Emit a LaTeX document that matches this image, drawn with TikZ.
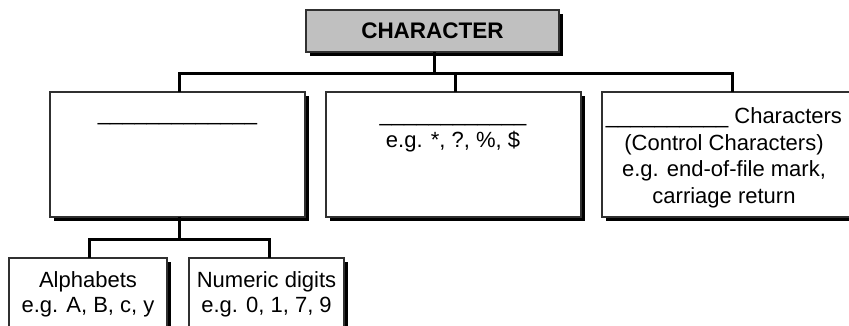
\documentclass[tikz,border=0pt]{standalone}
\usepackage{fontspec}
\setmainfont{Liberation Sans}
\usetikzlibrary{shadows}
\definecolor{boxline}{HTML}{303030}
\definecolor{boxgray}{HTML}{C0C0C0}
\begin{document}
\begin{tikzpicture}[x=1pt,y=-1pt,
  box/.style={draw=boxline, line width=1.5pt, fill=white, rectangle, outer sep=0pt, inner sep=0pt, anchor=north west,
    drop shadow={shadow xshift=4pt, shadow yshift=-4pt, fill=black, opacity=1}},
  conn/.style={line width=3pt, black},
  txt/.style={font=\fontsize{22}{26.5}\selectfont, align=center, anchor=base, inner sep=0pt}]
\useasboundingbox (0,0) rectangle (849,325);
\clip (0,0) rectangle (849,325);
% boxes
\node[box, fill=boxgray, minimum width=253pt, minimum height=42pt] (char) at (306,10) {};
\node[box, minimum width=255pt, minimum height=125pt] (L) at (50,92) {};
\node[box, minimum width=255pt, minimum height=125pt] (M) at (326,92) {};
\node[box, minimum width=260pt, minimum height=125pt] (R) at (602,92) {};
\node[box, minimum width=158pt, minimum height=90pt] (A) at (9,258) {};
\node[box, minimum width=155pt, minimum height=90pt] (N) at (189,258) {};
% texts (anchor base = baseline of the last line)
\node[txt, font=\fontsize{22.5}{25}\selectfont\bfseries] (tchar) at (432.5,38.5) {CHARACTER};
\node[txt] (tL) at (177.5,120) {\_\_\_\_\_\_\_\_\_\_\_\_\_};
\node[txt, font=\fontsize{22}{25.5}\selectfont] (tM) at (453,147) {\_\_\_\_\_\_\_\_\_\_\_\_\\e.g. *, ?, \%, \$};
\node[txt] (tR) at (724,203) {\_\_\_\_\_\_\_\_\_\_ Characters\\(Control Characters)\\e.g. end-of-file mark,\\carriage return};
\node[txt, font=\fontsize{22}{25}\selectfont] (tA) at (88,312) {Alphabets\\e.g. A, B, c, y};
\node[txt, font=\fontsize{22}{25}\selectfont] (tN) at (266.5,312) {Numeric digits\\e.g. 0, 1, 7, 9};
% connectors
\coordinate (bus) at (434,73);
\coordinate (bus2) at (179,239);
\draw[conn] (char.south -| bus) -- (bus);
\draw[conn] (L.north -| bus2) |- (bus) -| (R.north -| 732,0);
\draw[conn] (bus -| 455,0) -- (M.north -| 455,0);
\draw[conn] (L.south -| bus2) -- (bus2);
\draw[conn] (A.north -| 89,0) |- (bus2) -| (N.north -| 269,0);
\end{tikzpicture}
\end{document}
